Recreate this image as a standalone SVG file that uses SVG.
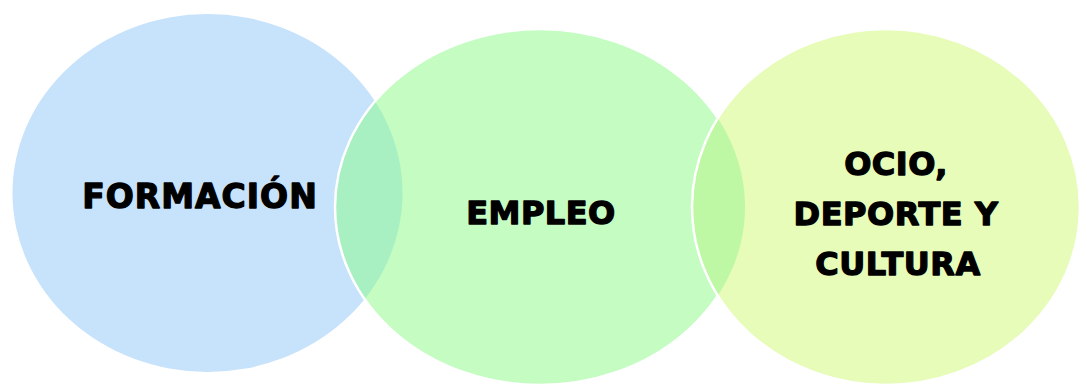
<svg xmlns="http://www.w3.org/2000/svg" width="1087" height="387" viewBox="0 0 1087 387">
<style>
.lbl{font-family:"DejaVu Sans","Liberation Sans",Arial,sans-serif;font-weight:bold;font-size:32px;fill:#000;stroke:#000;stroke-width:1.3;stroke-linejoin:round;text-anchor:middle}
.ring{fill:none;stroke:#ffffff;stroke-width:2.5}
</style>
<defs>
<clipPath id="clip1"><ellipse cx="207.5" cy="193" rx="195" ry="179"/></clipPath>
<clipPath id="clip2"><ellipse cx="540" cy="207" rx="205" ry="178"/></clipPath>
</defs>
<rect width="1087" height="387" fill="#ffffff"/>
<g id="formacion">
<ellipse cx="207.5" cy="193" rx="195" ry="179" fill="#c7e2fb"/>
<text class="lbl" x="200" y="208" style="letter-spacing:1px;font-size:33px">FORMACIÓN</text>
</g>
<g id="empleo">
<ellipse cx="540" cy="207" rx="205" ry="178" fill="#c4fcc2"/>
<ellipse cx="540" cy="207" rx="205" ry="178" fill="#a8f0c2" clip-path="url(#clip1)"/>
<ellipse class="ring" cx="540" cy="207" rx="205" ry="178"/>
<text class="lbl" x="541" y="224" style="letter-spacing:0.5px">EMPLEO</text>
</g>
<g id="ocio">
<ellipse cx="886" cy="207" rx="194" ry="178" fill="#e6fcb8"/>
<ellipse cx="886" cy="207" rx="194" ry="178" fill="#bef8a4" clip-path="url(#clip2)"/>
<ellipse class="ring" cx="886" cy="207" rx="194" ry="178"/>
<text class="lbl" x="896" y="175" style="letter-spacing:0.5px">OCIO,</text>
<text class="lbl" x="896" y="225" style="letter-spacing:0.5px">DEPORTE Y</text>
<text class="lbl" x="898" y="275" style="letter-spacing:0.5px">CULTURA</text>
</g>
<g id="connectors"></g>
</svg>
